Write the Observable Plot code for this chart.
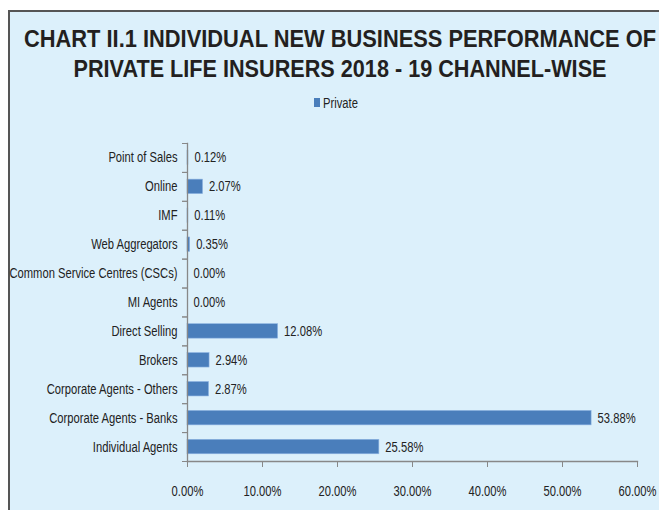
<!DOCTYPE html>
<html>
<head>
<meta charset="utf-8">
<script src="https://cdn.jsdelivr.net/npm/d3@7"></script>
<script src="https://cdn.jsdelivr.net/npm/@observablehq/plot@0.6"></script>
<style>
  html, body { margin: 0; padding: 0; background: #ffffff; width: 659px; height: 510px; overflow: hidden; }
  #frame { position: absolute; left: 8px; top: 10px; width: 700px; height: 560px; background: #dcf0fb; border-left: 2px solid #555; border-top: 2px solid #555; }
  #head { position: absolute; left: 0; top: 0; }
  #chart { position: absolute; left: 0; top: 0; }
</style>
</head>
<body>
<div id="frame"></div>
<div id="chart"></div>
<svg id="head" width="659" height="120" font-family="'Liberation Sans', Arial, sans-serif">
  <text id="t1" x="340" y="47" text-anchor="middle" font-weight="bold" font-size="24" fill="#231f20">CHART II.1 INDIVIDUAL NEW BUSINESS PERFORMANCE OF</text>
  <text id="t2" x="340" y="77" text-anchor="middle" font-weight="bold" font-size="24" fill="#231f20">PRIVATE LIFE INSURERS 2018 - 19 CHANNEL-WISE</text>
  <rect x="314" y="98" width="6" height="9" fill="#4a7ebb"></rect>
  <text id="lg" x="323" y="107.5" font-size="14" fill="#222">Private</text>
</svg>
<script>
const channels = ["Point of Sales", "Online", "IMF", "Web Aggregators", "Common Service Centres (CSCs)", "MI Agents", "Direct Selling", "Brokers", "Corporate Agents - Others", "Corporate Agents - Banks", "Individual Agents"];
const shares = [0.12, 2.07, 0.11, 0.35, 0.00, 0.00, 12.08, 2.94, 2.87, 53.88, 25.58];
const xTicks = [0, 10, 20, 30, 40, 50, 60];

const data = channels.map((c, i) => ({channel: c, value: shares[i]}));
const font = "'Liberation Sans', Arial, sans-serif";
const mTop = 143, mBottom = 49, H = 510;
const step = (H - mTop - mBottom) / channels.length;

const plot = Plot.plot({
  width: 659,
  height: H,
  marginLeft: 187,
  marginRight: 22,
  marginTop: mTop,
  marginBottom: mBottom,
  style: {background: "transparent", fontFamily: font, fontSize: "14px", color: "#222", overflow: "visible"},
  x: {domain: [0, 60]},
  y: {domain: channels, paddingInner: 0.5, paddingOuter: 0.25, round: false},
  marks: [
    Plot.barX(data, {y: "channel", x: "value", fill: "#4a7ebb", stroke: "#8db3e2", strokeWidth: 0.6}),
    Plot.text(data, {y: "channel", x: "value", text: d => d.value.toFixed(2) + "%", textAnchor: "start", dx: 6, fontSize: 14, fill: "#222"}),
    Plot.frame({anchor: "left", stroke: "#888", strokeWidth: 1.3}),
    Plot.frame({anchor: "bottom", stroke: "#888", strokeWidth: 1.3}),
    Plot.axisY({tickSize: 0, tickPadding: 10, label: null, fontSize: 14, fill: "#222"}),
    Plot.axisY({tickSize: 5, tickFormat: () => "", dy: step / 2, label: null, stroke: "#888"}),
    Plot.axisY({tickSize: 5, tickFormat: () => "", dy: -step / 2, label: null, stroke: "#888"}),
    Plot.axisX({ticks: xTicks, tickSize: 6, tickPadding: 19, tickFormat: d => d.toFixed(2) + "%", label: null, fontSize: 14, fill: "#222", stroke: "#888"})
  ]
});
document.getElementById("chart").appendChild(plot);

// emulate the condensed face of the original chart
function condense(el, k) {
  const w = el.getComputedTextLength();
  if (w > 0) {
    el.setAttribute("textLength", (w * k).toFixed(2));
    el.setAttribute("lengthAdjust", "spacingAndGlyphs");
  }
}
plot.querySelectorAll("text").forEach(t => condense(t, 0.8));
condense(document.getElementById("lg"), 0.8);
document.getElementById("t1").setAttribute("textLength", 632);
document.getElementById("t1").setAttribute("lengthAdjust", "spacingAndGlyphs");
document.getElementById("t2").setAttribute("textLength", 533);
document.getElementById("t2").setAttribute("lengthAdjust", "spacingAndGlyphs");
</script>
</body>
</html>
